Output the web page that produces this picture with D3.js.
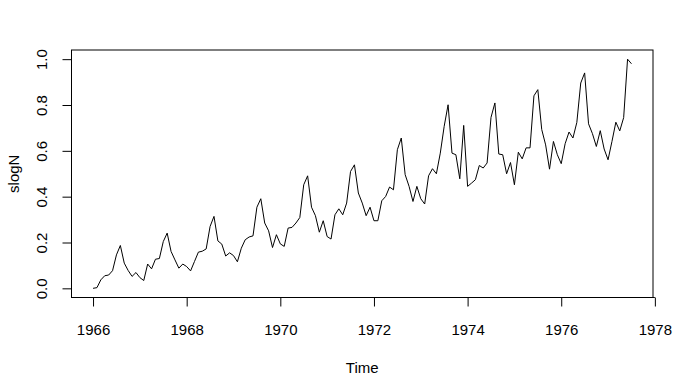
<!DOCTYPE html>
<meta charset="utf-8">
<script src="https://d3js.org/d3.v7.min.js"></script>
<style>
  body { margin: 0; background: #fff; }
  text { font-family: "Liberation Sans", Arial, sans-serif; fill: #000; }
</style>
<div id="chart"></div>
<script>
// monthly series, starts Jan 1966
var startYear = 1966
var slogN = [
  0.000, 0.003, 0.037, 0.055, 0.058, 0.077, 0.146, 0.187, 0.110, 0.078, 0.052, 0.069,
  0.047, 0.034, 0.106, 0.085, 0.127, 0.130, 0.204, 0.241, 0.161, 0.124, 0.088, 0.106,
  0.095, 0.076, 0.117, 0.158, 0.162, 0.172, 0.270, 0.314, 0.207, 0.193, 0.141, 0.155,
  0.143, 0.116, 0.175, 0.212, 0.224, 0.229, 0.354, 0.391, 0.285, 0.251, 0.178, 0.234,
  0.194, 0.183, 0.263, 0.266, 0.285, 0.309, 0.452, 0.491, 0.354, 0.317, 0.245, 0.295,
  0.226, 0.215, 0.321, 0.347, 0.321, 0.372, 0.510, 0.539, 0.416, 0.372, 0.317, 0.354,
  0.295, 0.295, 0.382, 0.401, 0.442, 0.430, 0.605, 0.656, 0.496, 0.445, 0.379, 0.445,
  0.391, 0.368, 0.491, 0.522, 0.500, 0.590, 0.707, 0.801, 0.590, 0.583, 0.478, 0.711,
  0.445, 0.459, 0.474, 0.536, 0.525, 0.547, 0.746, 0.809, 0.586, 0.583, 0.500, 0.549,
  0.452, 0.594, 0.565, 0.613, 0.613, 0.840, 0.867, 0.693, 0.626, 0.520, 0.641, 0.583,
  0.544, 0.631, 0.682, 0.656, 0.724, 0.896, 0.940, 0.718, 0.675, 0.619, 0.688, 0.608,
  0.561, 0.641, 0.725, 0.687, 0.745, 1.000, 0.980
]
var xTicks = [1966, 1968, 1970, 1972, 1974, 1976, 1978]
var yTicks = [0.0, 0.2, 0.4, 0.6, 0.8, 1.0]

var width = 679, height = 383
// plot box edges (window.top is reserved, so prefixed names)
var boxL = 71.5, boxR = 653, boxT = 50, boxB = 297.5
var fontSize = "15px"

var data = slogN.map(function(v, i) { return { t: startYear + i / 12, v: v } })

var t0 = data[0].t, t1 = data[data.length - 1].t
var padX = (t1 - t0) * 0.04
var x = d3.scaleLinear().domain([t0 - padX, t1 + padX]).range([boxL, boxR])
var y = d3.scaleLinear().domain([-0.04, 1.04]).range([boxB, boxT])

var svg = d3.select("#chart").append("svg")
  .attr("width", width)
  .attr("height", height)

// series
svg.append("path")
  .datum(data)
  .attr("fill", "none")
  .attr("stroke", "#000")
  .attr("stroke-width", 1)
  .attr("d", d3.line().x(function(d) { return x(d.t) }).y(function(d) { return y(d.v) }))

// box
svg.append("rect")
  .attr("x", boxL).attr("y", boxT)
  .attr("width", boxR - boxL).attr("height", boxB - boxT)
  .attr("fill", "none").attr("stroke", "#000")

// x axis
var gx = svg.append("g").attr("transform", "translate(0," + boxB + ")")
  .call(d3.axisBottom(x).tickValues(xTicks).tickSize(9).tickPadding(18).tickFormat(d3.format("d")))
gx.select(".domain").remove()
gx.append("line")
  .attr("x1", x(xTicks[0])).attr("x2", x(xTicks[xTicks.length - 1]))
  .attr("stroke", "#000")
gx.selectAll("text").style("font-size", fontSize).style("font-family", "Liberation Sans, Arial, sans-serif")

// y axis
var gy = svg.append("g").attr("transform", "translate(" + boxL + ",0)")
  .call(d3.axisLeft(y).tickValues(yTicks).tickSize(9).tickFormat(d3.format(".1f")))
gy.select(".domain").remove()
gy.append("line")
  .attr("y1", y(yTicks[0])).attr("y2", y(yTicks[yTicks.length - 1]))
  .attr("stroke", "#000")
gy.selectAll(".tick text")
  .attr("x", 0).attr("dy", 0)
  .attr("text-anchor", "middle")
  .attr("transform", "translate(" + (47 - boxL) + ",0) rotate(-90)")
  .style("font-size", fontSize).style("font-family", "Liberation Sans, Arial, sans-serif")

// titles
svg.append("text")
  .attr("x", (boxL + boxR) / 2).attr("y", 372.5)
  .attr("text-anchor", "middle")
  .style("font-size", fontSize)
  .text("Time")

svg.append("text")
  .attr("transform", "translate(18.5," + ((boxT + boxB) / 2) + ") rotate(-90)")
  .attr("text-anchor", "middle")
  .style("font-size", fontSize)
  .text("slogN")
</script>
